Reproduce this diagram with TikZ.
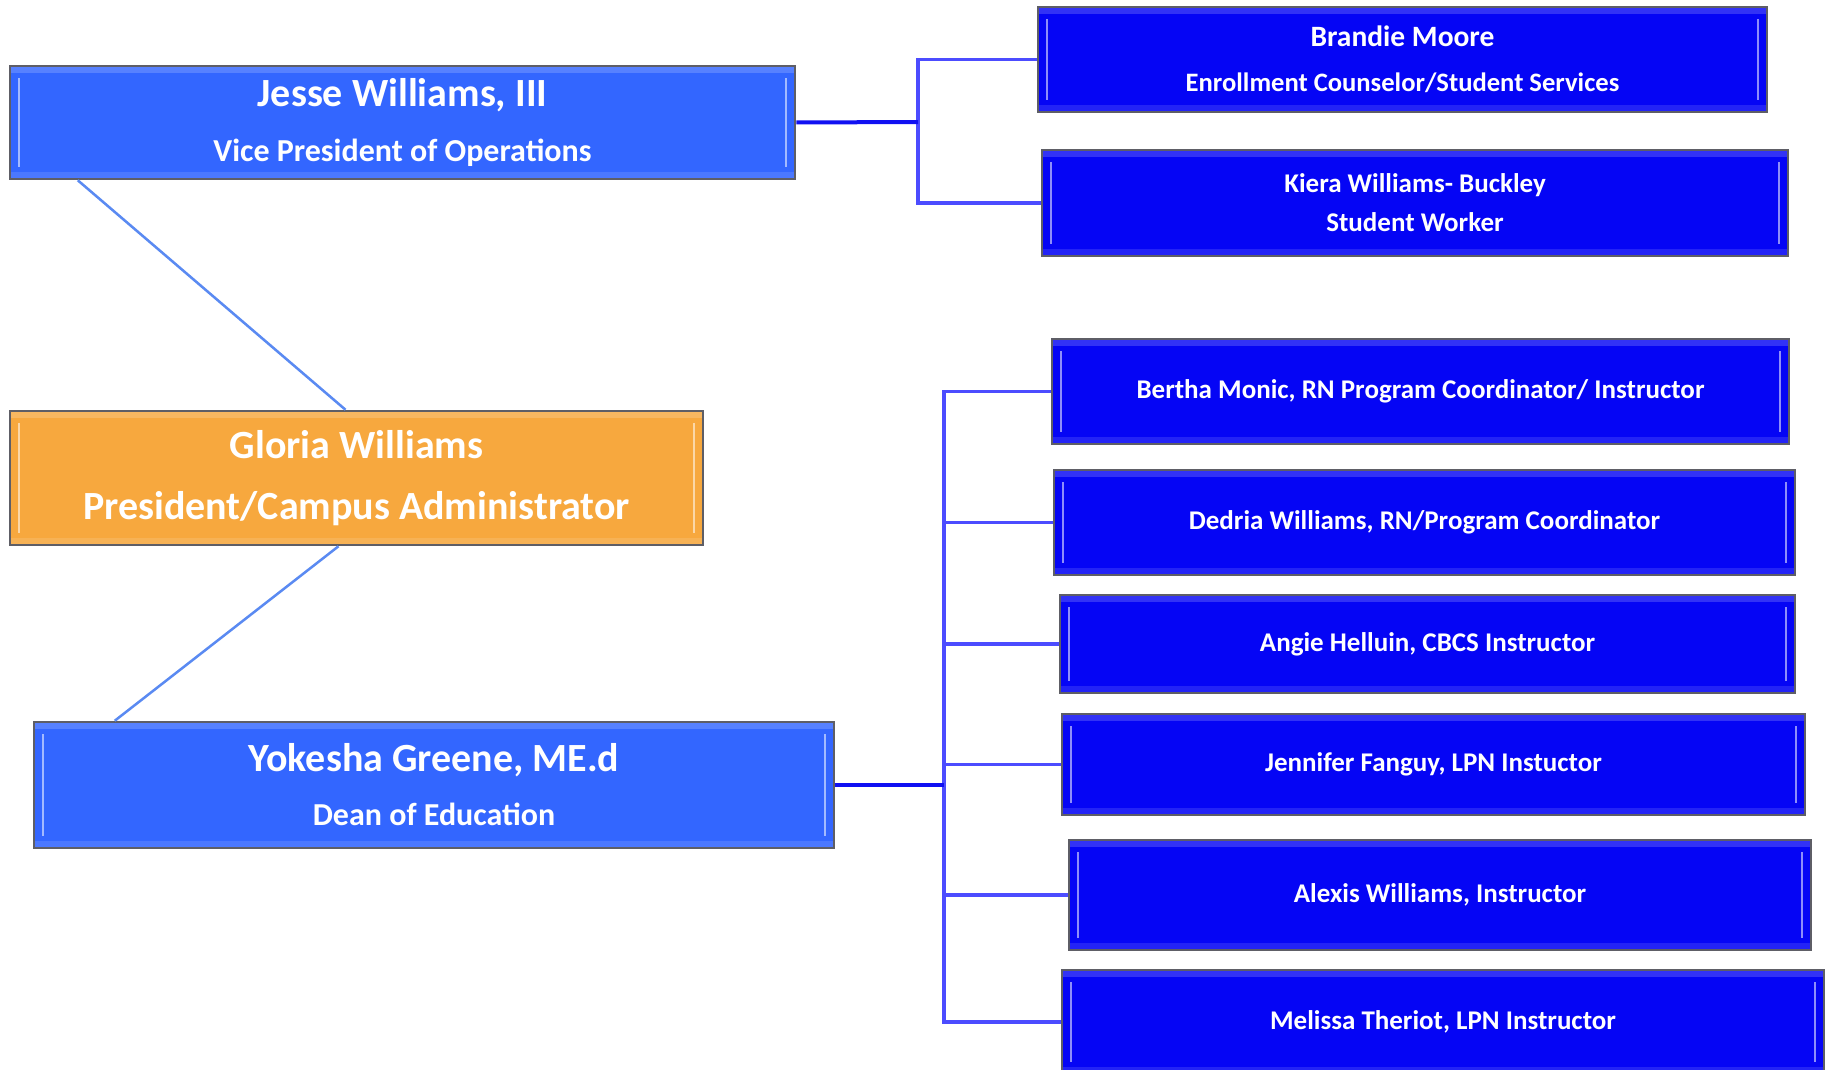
\documentclass[tikz,border=0pt]{standalone}
\usepackage{fontspec}
\setmainfont{Carlito}
\definecolor{midblue}{HTML}{3366FF}
\definecolor{deepblue}{HTML}{0505F5}
\definecolor{orangebox}{HTML}{F7A83E}
\definecolor{boxborder}{HTML}{5E5E66}
\definecolor{trunkblue}{HTML}{1010F2}
\definecolor{branchblue}{HTML}{4C4CFF}
\definecolor{linkblue}{HTML}{5A8AF2}
\tikzset{
  bevel/.style={path picture={
    \fill[white,opacity=0.18] (path picture bounding box.north west) rectangle ([yshift=-7pt]path picture bounding box.north east);
    \fill[white,opacity=0.12] (path picture bounding box.south west) rectangle ([yshift=7pt]path picture bounding box.south east);
    \draw[white,opacity=0.55,line width=2.5pt] ([shift={(9pt,-12pt)}]path picture bounding box.north west) -- ([shift={(9pt,12pt)}]path picture bounding box.south west);
    \draw[white,opacity=0.55,line width=2.5pt] ([shift={(-9pt,-12pt)}]path picture bounding box.north east) -- ([shift={(-9pt,12pt)}]path picture bounding box.south east);
  }},
  box/.style={draw=boxborder, line width=2.5pt, inner sep=0pt, align=center, text=white, font=\bfseries, bevel},
  vpbox/.style={box, fill=midblue},
  staffbox/.style={box, fill=deepblue},
  presbox/.style={box, fill=orangebox},
  trunk/.style={draw=trunkblue, line width=4pt},
  branch/.style={draw=branchblue, line width=3.2pt},
  link/.style={draw=linkblue, line width=2.5pt},
}
\newcommand{\bigname}[1]{{\fontsize{40}{44}\selectfont #1}}
\newcommand{\midname}[1]{{\fontsize{32}{35}\selectfont #1}}
\newcommand{\stafftxt}{\fontsize{27}{30}\selectfont}
\begin{document}
\begin{tikzpicture}[x=1pt,y=-1pt]
\useasboundingbox[fill=white] (0,0) rectangle (1826,1070);

\coordinate (j1) at (918,122);
\coordinate (j2) at (944,785);

% boxes
\node[vpbox, minimum width=785pt, minimum height=113pt] (jesse) at (402.5,122.5)
  {\bigname{Jesse Williams, III}\\[26pt]\midname{Vice President of Operations}};
\node[presbox, minimum width=693pt, minimum height=134pt] (gloria) at (356.5,478)
  {\bigname{Gloria Williams}\\[32pt]{\fontsize{40}{44}\selectfont President/Campus Administrator}};
\node[vpbox, minimum width=800pt, minimum height=126pt] (yokesha) at (434,785)
  {\bigname{Yokesha Greene, ME.d}\\[25pt]\midname{Dean of Education}};

\node[staffbox, minimum width=729pt, minimum height=105pt] (brandie) at (1402.5,59.5)
  {{\fontsize{29.5}{32}\selectfont Brandie Moore}\\[25pt]{\fontsize{26.6}{30}\selectfont Enrollment Counselor/Student Services}};
\node[staffbox, minimum width=746pt, minimum height=106pt] (kiera) at (1415,203)
  {{\stafftxt Kiera Williams- Buckley}\\[15pt]{\stafftxt Student Worker}};

\node[staffbox, minimum width=737pt, minimum height=105pt, font=\bfseries\stafftxt] (bertha) at (1420.5,391.5)
  {Bertha Monic, RN Program Coordinator/ Instructor};
\node[staffbox, minimum width=741pt, minimum height=105pt, font=\bfseries\stafftxt] (dedria) at (1424.5,522.5)
  {Dedria Williams, RN/Program Coordinator};
\node[staffbox, minimum width=735pt, minimum height=98pt, font=\bfseries\stafftxt] (angie) at (1427.5,644)
  {Angie Helluin, CBCS Instructor};
\node[staffbox, minimum width=743pt, minimum height=101pt, font=\bfseries\stafftxt] (jennifer) at (1433.5,764.5)
  {Jennifer Fanguy, LPN Instuctor};
\node[staffbox, minimum width=742pt, minimum height=110pt, font=\bfseries\stafftxt] (alexis) at (1440,895)
  {Alexis Williams, Instructor};
\node[staffbox, minimum width=762pt, minimum height=104pt, font=\bfseries\stafftxt] (melissa) at (1443,1022)
  {Melissa Theriot, LPN Instructor};

% links from president
\draw[link] ([xshift=69pt]jesse.south west) -- ([xshift=-11pt]gloria.north);
\draw[link] ([xshift=-18pt]gloria.south) -- ([xshift=82pt]yokesha.north west);

% VP operations group
\draw[branch] (j1) |- (brandie.west);
\draw[branch] (j1) |- (kiera.west);
\draw[trunk] (jesse.east) -- (j1);

% Dean group
\draw[branch] (j2) |- (bertha.west);
\draw[branch] (j2) |- (dedria.west);
\draw[branch] (j2) |- (angie.west);
\draw[branch] (j2) |- (jennifer.west);
\draw[branch] (j2) |- (alexis.west);
\draw[branch] (j2) |- (melissa.west);
\draw[trunk] (yokesha.east) -- (j2);
\end{tikzpicture}
\end{document}
